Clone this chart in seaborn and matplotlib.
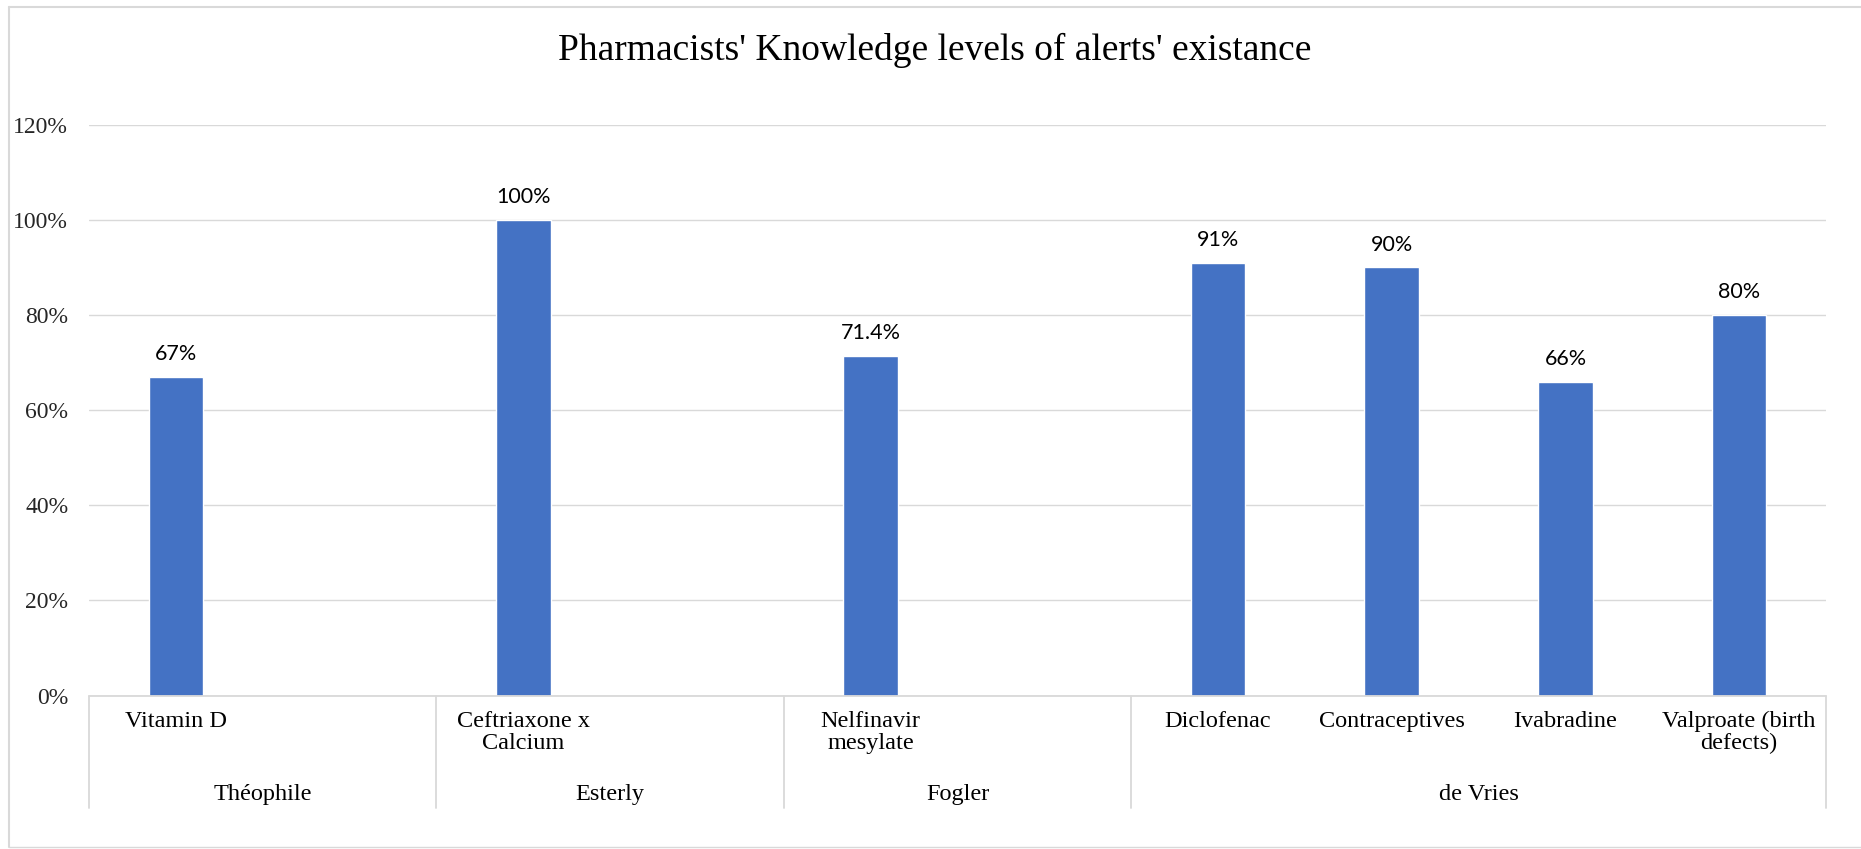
import matplotlib
matplotlib.use("Agg")
import numpy as np
import pandas as pd
import matplotlib.pyplot as plt
import matplotlib.transforms as mtrans
from matplotlib.lines import Line2D
import seaborn as sns

# ---------------- data ----------------
items = ["Vitamin D", "Ceftriaxone x\nCalcium", "Nelfinavir\nmesylate",
         "Diclofenac", "Contraceptives", "Ivabradine", "Valproate (birth\ndefects)"]
item_groups = ["Théophile", "Esterly", "Fogler",
               "de Vries", "de Vries", "de Vries", "de Vries"]
values = [0.67, 1.00, 0.714, 0.91, 0.90, 0.66, 0.80]
value_labels = ["67%", "100%", "71.4%", "91%", "90%", "66%", "80%"]
group_names = ["Théophile", "Esterly", "Fogler", "de Vries"]
group_slots = [2, 2, 2, 4]   # axis slots per group (blank rows in the source sheet)
y_ticks = [0.0, 0.2, 0.4, 0.6, 0.8, 1.0, 1.2]
y_tick_labels = ["0%", "20%", "40%", "60%", "80%", "100%", "120%"]
title = "Pharmacists' Knowledge levels of alerts' existance"

# ---------------- build slot order ----------------
order = []
gap_i = 0
for g, n in zip(group_names, group_slots):
    members = [it for it, gg in zip(items, item_groups) if gg == g]
    order.extend(members)
    for _ in range(n - len(members)):
        order.append(f"__gap{gap_i}")
        gap_i += 1

df = pd.DataFrame({"item": items, "group": item_groups, "value": values})

# ---------------- figure ----------------
sns.set_style("white")
plt.rcParams["font.family"] = ["Liberation Serif", "DejaVu Serif"]

W, H = 1861, 849
fig = plt.figure(figsize=(W / 100, H / 100), dpi=100)
ax_left, ax_right, ax_top, ax_bottom = 89, 1826, 124.6, 695.5
ax = fig.add_axes([ax_left / W, 1 - ax_bottom / H,
                   (ax_right - ax_left) / W, (ax_bottom - ax_top) / H])

sns.barplot(data=df, x="item", y="value", order=order, color="#4472C4",
            saturation=1, width=0.314, ax=ax, errorbar=None, zorder=3)

ax.set_xlim(-0.5, len(order) - 0.5)
ax.set_ylim(0, 1.2)
ax.set_yticks(y_ticks)
ax.set_yticklabels(y_tick_labels, fontsize=17, color="#262626")
ax.tick_params(axis="y", length=0, pad=15)
ax.set_xticks([])
ax.set_xlabel("")
ax.set_ylabel("")
for s in ax.spines.values():
    s.set_visible(False)
ax.yaxis.grid(True, color="#d9d9d9", linewidth=1.0, zorder=0)
ax.set_axisbelow(True)

# data labels
pos = {name: i for i, name in enumerate(order)}
for it, v, lab in zip(items, values, value_labels):
    ax.annotate(lab, (pos[it], v), xytext=(0, 9), textcoords="offset points",
                ha="center", va="bottom", fontsize=15.5, family=["Lato", "DejaVu Sans"],
                color="#000000")

# multi-level category axis
trans = mtrans.blended_transform_factory(ax.transData, ax.transAxes)
axh = ax_bottom - ax_top
ax.plot([-0.5, len(order) - 0.5], [0, 0], transform=trans, color="#d9d9d9",
        linewidth=1.3, clip_on=False, zorder=4)
sep_bottom = -(808 - ax_bottom) / axh
bounds = np.concatenate([[0], np.cumsum(group_slots)]) - 0.5
for b in bounds:
    ax.plot([b, b], [0, sep_bottom], transform=trans, color="#d9d9d9",
            linewidth=1.3, clip_on=False)

item_top = -(711 - ax_bottom) / axh
for it in items:
    ax.text(pos[it], item_top, it, transform=trans, ha="center", va="top",
            fontsize=17.5, linespacing=1.05, color="#000000")

group_base = -(800 - ax_bottom) / axh
for g, a, b in zip(group_names, bounds[:-1], bounds[1:]):
    ax.text((a + b) / 2, group_base, g, transform=trans, ha="center",
            va="baseline", fontsize=17.5, color="#000000")

# title
fig.text(935 / W, 1 - 60 / H, title, ha="center", va="baseline", fontsize=27,
         color="#000000")

# chart border
bc = "#d9d9d9"
fig.add_artist(Line2D([9 / W, 1], [1 - 6.5 / H, 1 - 6.5 / H], transform=fig.transFigure,
                      color=bc, linewidth=1.5))
fig.add_artist(Line2D([9 / W, 9 / W], [1 - 6.5 / H, 1 - 847 / H], transform=fig.transFigure,
                      color=bc, linewidth=1.5))
fig.add_artist(Line2D([9 / W, 1], [1 - 847 / H, 1 - 847 / H], transform=fig.transFigure,
                      color=bc, linewidth=1.0))

fig.savefig("out.png", dpi=100)
